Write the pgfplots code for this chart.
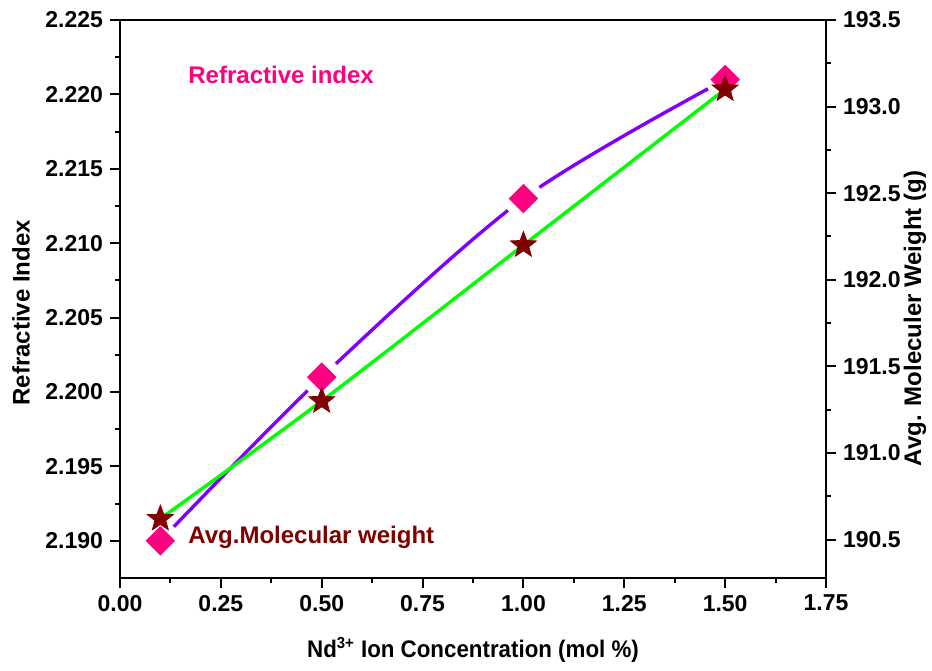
\documentclass[border=0pt]{standalone}
\usepackage{pgfplots}
\pgfplotsset{compat=1.18}
\usepackage{fontspec}
\setmainfont{Liberation Sans}

\definecolor{rimag}{HTML}{FF0080}
\definecolor{mwred}{HTML}{800000}
\definecolor{rline}{HTML}{8000FF}
\definecolor{mwline}{HTML}{00FF00}

% filled five-pointed star
\pgfdeclareplotmark{fstar}{%
  \pgfpathmoveto{\pgfqpointpolar{90}{\pgfplotmarksize}}%
  \pgfpathlineto{\pgfqpointpolar{126}{0.42\pgfplotmarksize}}%
  \pgfpathlineto{\pgfqpointpolar{162}{\pgfplotmarksize}}%
  \pgfpathlineto{\pgfqpointpolar{198}{0.42\pgfplotmarksize}}%
  \pgfpathlineto{\pgfqpointpolar{234}{\pgfplotmarksize}}%
  \pgfpathlineto{\pgfqpointpolar{270}{0.42\pgfplotmarksize}}%
  \pgfpathlineto{\pgfqpointpolar{306}{\pgfplotmarksize}}%
  \pgfpathlineto{\pgfqpointpolar{342}{0.42\pgfplotmarksize}}%
  \pgfpathlineto{\pgfqpointpolar{18}{\pgfplotmarksize}}%
  \pgfpathlineto{\pgfqpointpolar{54}{0.42\pgfplotmarksize}}%
  \pgfpathclose
  \pgfusepathqfillstroke
}

\pgfplotsset{
  every axis/.append style={
    scale only axis, width=353pt, height=279pt,
    xmin=0, xmax=1.75,
    tick align=outside,
    major tick length=5pt, minor tick length=2.5pt,
    tick style={black, line width=1pt},
    minor tick style={black, line width=1pt},
    axis line style={line width=1pt},
    tick label style={font=\fontsize{11.5}{13}\selectfont\bfseries},
    label style={font=\fontsize{12}{14}\selectfont\bfseries},
    /pgf/number format/assume math mode=true,
  }
}

\begin{document}
\begin{tikzpicture}
\path[use as bounding box] (-60pt,-46pt) rectangle (406pt,289pt);

\begin{axis}[
  ymin=2.1875, ymax=2.225,
  xtick={0,0.25,0.5,0.75,1,1.25,1.5,1.75},
  ytick={2.190,2.195,2.200,2.205,2.210,2.215,2.220,2.225},
  minor x tick num=1, minor y tick num=1,
  xtick pos=left, ytick pos=left,
  xticklabel style={/pgf/number format/.cd, fixed, fixed zerofill, precision=2},
  yticklabel style={/pgf/number format/.cd, fixed, fixed zerofill, precision=3},
  xlabel={\addfontfeature{FakeStretch=0.93}Nd\textsuperscript{3+} Ion Concentration (mol \%)},
  ylabel={Refractive Index},
  xlabel style={at={(axis description cs:0.5,-0.129)}, anchor=center},
  ylabel style={at={(axis description cs:-0.14,0.475)}, anchor=center},
]
  % spline through refractive index
  \addplot[color=rline, line width=1.7pt, smooth] coordinates {
    (0.1,2.190) (0.5,2.201) (1.0,2.213) (1.5,2.221) };
  % gap round the symbols
  \addplot[only marks, mark=*, mark size=9.5pt,
    mark options={draw=white, fill=white}] coordinates {
    (0.1,2.190) (0.5,2.201) (1.0,2.213) (1.5,2.221) };
  \addplot[only marks, mark=square*, mark size=5pt,
    mark options={rotate=45, fill=rimag, draw=rimag}] coordinates {
    (0.1,2.190) (0.5,2.201) (1.0,2.213) (1.5,2.221) };

  \node[anchor=base west, inner sep=0pt, text=rimag,
    font=\fontsize{12}{14}\selectfont\bfseries] at (axis cs:0.1686,2.2207) {Refractive index};
  \node[anchor=base west, inner sep=0pt, text=mwred,
    font=\fontsize{12}{14}\selectfont\bfseries] at (axis cs:0.1686,2.18985) {Avg.Molecular weight};
\end{axis}

\begin{axis}[
  axis y line*=right, axis x line=none,
  ymin=190.278, ymax=193.5,
  ytick={190.5,191.0,191.5,192.0,192.5,193.0,193.5},
  minor y tick num=1,
  yticklabel style={/pgf/number format/.cd, fixed, fixed zerofill, precision=1},
  ylabel={Avg. Moleculer Weight (g)},
  ylabel style={at={(axis description cs:1.126,0.465)}, anchor=center},
]
  \addplot[color=mwline, line width=1.7pt, smooth] coordinates {
    (0.1,190.62) (0.5,191.3) (1.0,192.2) (1.5,193.1) };
  \addplot[only marks, mark=fstar, mark size=6.8pt,
    mark options={fill=mwred, draw=mwred}] coordinates {
    (0.1,190.62) (0.5,191.3) (1.0,192.2) (1.5,193.1) };
\end{axis}
\end{tikzpicture}
\end{document}
